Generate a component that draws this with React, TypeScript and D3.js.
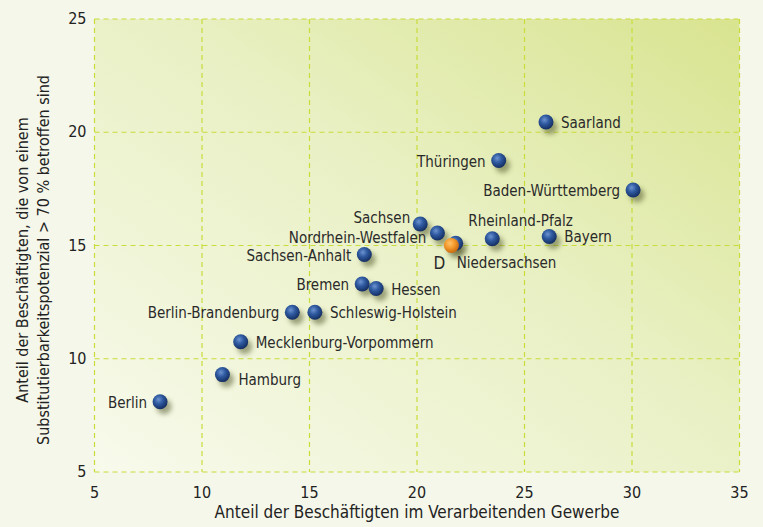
import React from 'react';
import * as d3 from 'd3';

// Bundesländer: Anteil Verarbeitendes Gewerbe (x) vs. Anteil mit Substituierbarkeitspotenzial >70 % (y)
const names = [
    'Saarland', 'Thüringen', 'Baden-Württemberg', 'Sachsen', 'Nordrhein-Westfalen',
    'Niedersachsen', 'Rheinland-Pfalz', 'Bayern', 'Sachsen-Anhalt', 'Bremen', 'Hessen',
    'Berlin-Brandenburg', 'Schleswig-Holstein', 'Mecklenburg-Vorpommern', 'Hamburg', 'Berlin', 'D'
];
const industryShare = [26.0, 23.8, 30.05, 20.15, 20.95, 21.8, 23.5, 26.15, 17.55, 17.45, 18.1, 14.2, 15.25, 11.8, 10.95, 8.05, 21.6];
const substitutionShare = [20.45, 18.75, 17.45, 15.95, 15.55, 15.1, 15.3, 15.4, 14.6, 13.3, 13.1, 12.05, 12.05, 10.75, 9.3, 8.1, 15.0];
// label placement: side of the point
const labelSide = ['r', 'l', 'l', 'tl', 'bl2', 'br', 'tr', 'r', 'l', 'l', 'r', 'l', 'r', 'r', 'rb', 'l', 'bl'];

const xTicks = [5, 10, 15, 20, 25, 30, 35];
const yTicks = [5, 10, 15, 20, 25];

const W = 763;
const H = 527;
const left = 94.5, right = 739.5, top = 19, bottom = 472;
const gridColor = '#c9dc3a';
const font = '"DejaVu Sans Condensed", "DejaVu Sans", sans-serif';

const labelOffset = (side: string) => {
    switch (side) {
        case 'r': return { dx: 15, dy: 6, anchor: 'start' };
        case 'rb': return { dx: 16, dy: 10, anchor: 'start' };
        case 'l': return { dx: -13, dy: 6, anchor: 'end' };
        case 'tl': return { dx: -10, dy: -1, anchor: 'end' };
        case 'bl2': return { dx: -11, dy: 10, anchor: 'end' };
        case 'tr': return { dx: -24, dy: -13, anchor: 'start' };
        case 'br': return { dx: 1, dy: 25, anchor: 'start' };
        case 'bl': return { dx: -6, dy: 23, anchor: 'end' };
        default: return { dx: 14, dy: 6, anchor: 'start' };
    }
};

const App = () => {
    const x = d3.scaleLinear().domain([5, 35]).range([left, right]);
    const y = d3.scaleLinear().domain([5, 25]).range([bottom, top]);

    const points = names.map((name, i) => ({
        name,
        x: industryShare[i],
        y: substitutionShare[i],
        side: labelSide[i],
        isD: name === 'D'
    }));
    // draw D last so it sits on top of Niedersachsen
    const order = [...points.filter(p => !p.isD), ...points.filter(p => p.isD)];

    return (
        <svg width={W} height={H} style={{ position: 'absolute', left: 0, top: 0 }} fontFamily={font}>
            <defs>
                <linearGradient id="plotBg" x1="0%" y1="100%" x2="100%" y2="0%">
                    <stop offset="0%" stopColor="#f8faec" />
                    <stop offset="55%" stopColor="#e9f0c4" />
                    <stop offset="100%" stopColor="#d9e490" />
                </linearGradient>
                <radialGradient id="blueBall" cx="40%" cy="35%" r="65%">
                    <stop offset="0%" stopColor="#6d93d0" />
                    <stop offset="45%" stopColor="#2f5aa0" />
                    <stop offset="100%" stopColor="#142e62" />
                </radialGradient>
                <radialGradient id="orangeBall" cx="40%" cy="35%" r="65%">
                    <stop offset="0%" stopColor="#ffc26a" />
                    <stop offset="50%" stopColor="#f39a2c" />
                    <stop offset="100%" stopColor="#c96a10" />
                </radialGradient>
                <filter id="shadow" x="-50%" y="-50%" width="200%" height="200%">
                    <feGaussianBlur stdDeviation="2.4" />
                </filter>
            </defs>

            <rect width={W} height={H} fill="#f5f7ea" />
            <rect x={left} y={top} width={right - left} height={bottom - top} fill="url(#plotBg)" />

            {/* grid */}
            <g stroke={gridColor} strokeWidth={1.2} strokeDasharray="5,4" fill="none">
                {xTicks.map(t => (
                    <line key={'gx' + t} x1={x(t)} x2={x(t)} y1={top} y2={bottom} />
                ))}
                {yTicks.map(t => (
                    <line key={'gy' + t} x1={left} x2={right} y1={y(t)} y2={y(t)} />
                ))}
            </g>

            {/* tick labels */}
            <g fill="#222" fontSize={16}>
                {xTicks.map(t => (
                    <text key={'tx' + t} x={x(t)} y={bottom + 26} textAnchor="middle">{t}</text>
                ))}
                {yTicks.map(t => (
                    <text key={'ty' + t} x={left - 8} y={y(t) + 5} textAnchor="end">{t}</text>
                ))}
            </g>

            <text x={417} y={518} textAnchor="middle" fontSize={17} fill="#222">
                Anteil der Beschäftigten im Verarbeitenden Gewerbe
            </text>
            <g transform="translate(0,260) rotate(-90)" fontSize={16} fill="#222">
                <text x={0} y={28} textAnchor="middle">Anteil der Beschäftigten, die von einem</text>
                <text x={0} y={49} textAnchor="middle">Substitutierbarkeitspotenzial &gt; 70 % betroffen sind</text>
            </g>

            {/* shadows */}
            <g>
                {order.map(p => (
                    <circle key={'s' + p.name} cx={x(p.x) + 4} cy={y(p.y) + 5} r={7.5}
                        fill="#4a5020" opacity={0.5} filter="url(#shadow)" />
                ))}
            </g>
            {/* points */}
            <g>
                {order.map(p => (
                    <circle key={'p' + p.name} cx={x(p.x)} cy={y(p.y)} r={7.5}
                        fill={p.isD ? 'url(#orangeBall)' : 'url(#blueBall)'} />
                ))}
            </g>
            {/* labels */}
            <g fill="#2a2a2a">
                {order.map(p => {
                    const o = labelOffset(p.side);
                    return (
                        <text key={'l' + p.name} x={x(p.x) + o.dx} y={y(p.y) + o.dy}
                            textAnchor={o.anchor} fontSize={p.isD ? 17 : 15}>{p.name}</text>
                    );
                })}
            </g>
        </svg>
    );
};

export default App;
